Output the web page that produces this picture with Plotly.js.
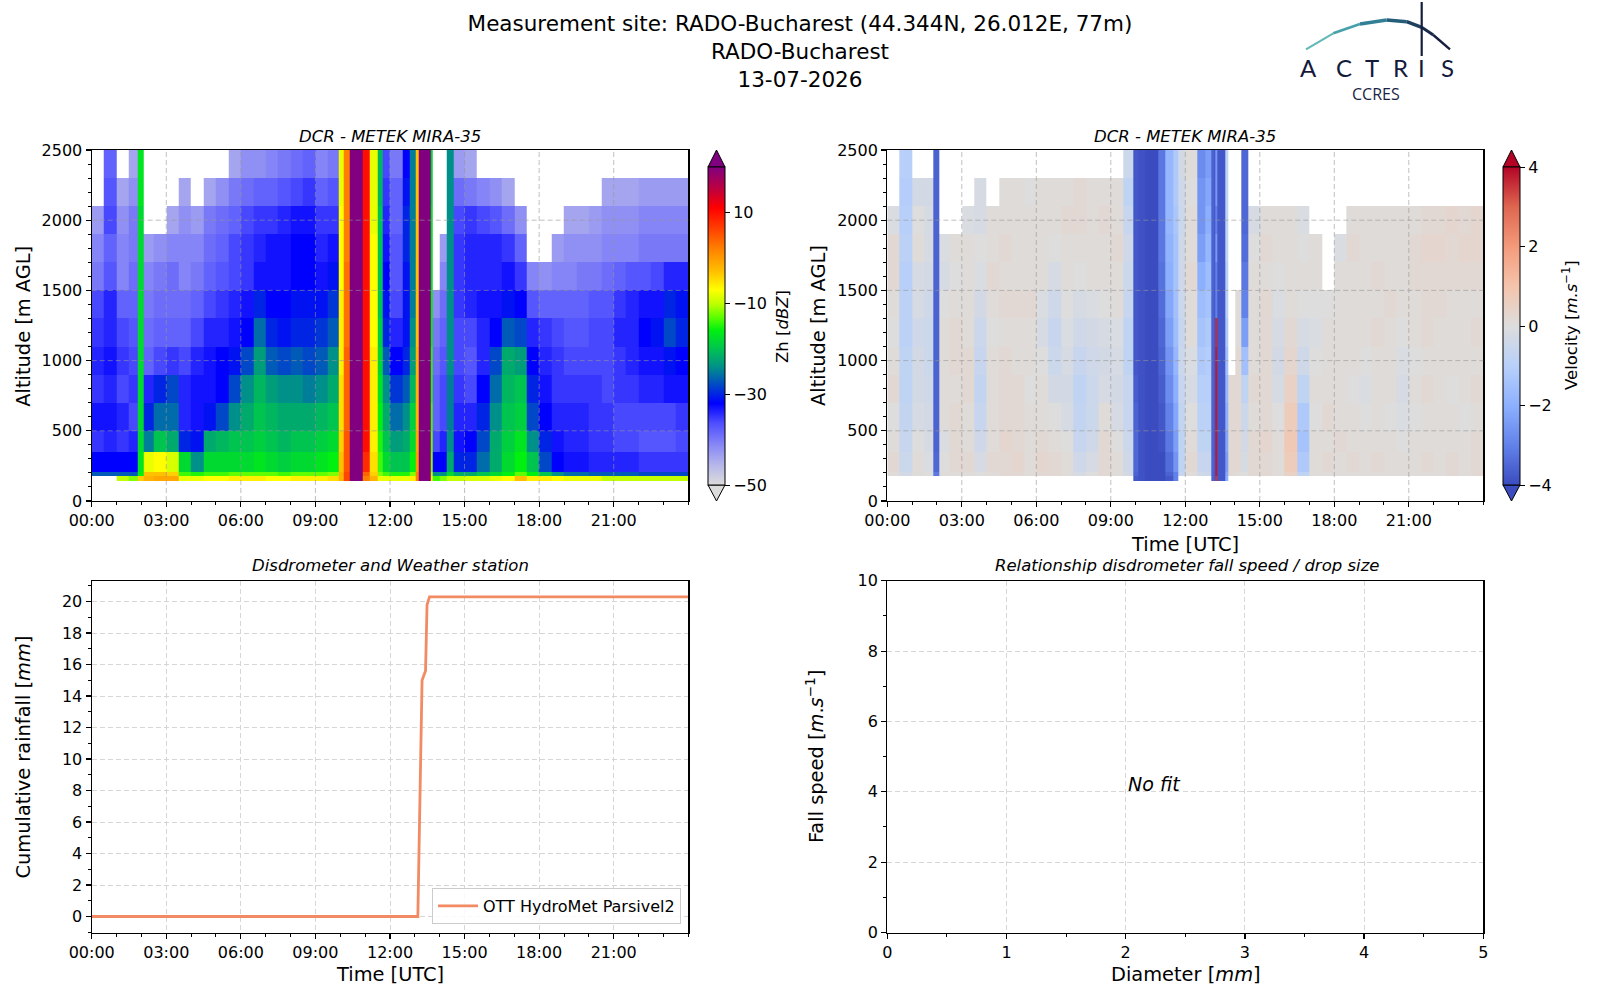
<!DOCTYPE html>
<html>
<head>
<meta charset="utf-8">
<script src="https://cdn.plot.ly/plotly-3.0.1.min.js"></script>
<style>
  body { margin: 0; background: #fff; }
  #chart { width: 1600px; height: 1000px; }
</style>
</head>
<body>
<div id="chart"></div>
<script>
const _ = null;

// time bins (hours UTC), bin edges
const timeEdges = [0, 0.5, 1.0, 1.5, 1.85, 2.08, 2.5, 3.0, 3.5, 4.0, 4.5, 5.0, 5.5, 6.0,
  6.5, 7.0, 7.5, 8.0, 8.5, 9.0, 9.5, 9.92, 10.12, 10.39, 10.92, 11.2, 11.52, 11.72,
  12.0, 12.5, 12.8, 13.05, 13.15, 13.2, 13.3, 13.63, 13.72, 14.0, 14.27, 14.55, 15.0,
  15.5, 16.0, 16.5, 17.0, 17.5, 18.0, 18.5, 19.0, 19.5, 20.0, 20.5, 21.0, 21.5, 22.0,
  22.5, 23.0, 23.5, 24.0];
// range gates (m AGL), bin edges
const altitudeEdges = [145, 175, 210, 350, 500, 700, 900, 1100, 1300, 1500, 1700, 1900, 2100, 2300, 2500];

const timeTicks = [0, 3, 6, 9, 12, 15, 18, 21];
const timeLabels = ['00:00', '03:00', '06:00', '09:00', '12:00', '15:00', '18:00', '21:00'];
const altitudeTicks = [0, 500, 1000, 1500, 2000, 2500];

// reflectivity Zh (dBZ), one profile per time bin, lowest gate first
const reflectivityProfiles = [
  [_, -27, -32, -35, -33, -35, -34, -35, -36, -40, -41, -43, _, _],
  [_, -27, -32, -34, -33, -34, -33, -34, -34, -37, -38, -36, -37, -38],
  [-10, -27, -32, -35, -34, -36, -35, -36, -38, -41, -41, -42, -44, _],
  [-12, -27, -32, -34, -36, -35, -36, -37, -38, -39, -40, -40, -42, -44],
  [-4, -16, -17, -18, -18, -18, -18, -18, -18, -18, -18, -18, -17, -17],
  [-2, -3, -8, -25, -30, -34, -38, -39, -40, -41, -43, _, _, _],
  [-1, -3, -7, -20, -26, -30, -36, -38, -39, -40, -42, _, _, _],
  [-1, -4, -9, -22, -26, -28, -35, -38, -39, -39, -41, -44, _, _],
  [-8, -14, -18, -30, -34, -34, -36, -38, -39, -41, -41, -42, -44, _],
  [-8, -15, -24, -31, -33, -33, -34, -36, -38, -40, -41, -43, _, _],
  [-7, -14, -18, -22, -31, -33, -33, -34, -36, -38, -39, -40, -44, _],
  [-7, -14, -18, -21, -28, -32, -32, -34, -35, -37, -38, -39, -42, _],
  [-6, -13, -18, -20, -24, -28, -31, -33, -34, -36, -36, -38, -40, -44],
  [-6, -13, -18, -20, -22, -24, -28, -32, -33, -35, -35, -36, -39, -42],
  [-6, -13, -17, -19, -20, -21, -23, -26, -30, -33, -34, -35, -38, -42],
  [-7, -13, -18, -20, -21, -23, -27, -30, -32, -33, -33, -35, -38, -41],
  [-7, -14, -19, -21, -22, -24, -28, -31, -32, -33, -33, -34, -37, -40],
  [-6, -13, -18, -20, -22, -24, -27, -30, -31, -32, -32, -33, -36, -39],
  [-6, -13, -18, -20, -22, -25, -28, -30, -31, -32, -32, -33, -35, -38],
  [-6, -13, -17, -19, -21, -24, -27, -29, -31, -33, -34, -35, -38, -41],
  [-5, -12, -16, -18, -20, -22, -24, -27, -29, -31, -33, -35, -37, -40],
  [-2, -2, -3, -4, -5, -5, -6, -6, -6, -7, -7, -7, -8, -8],
  [6, 6, 5, 5, 4, 4, 4, 3, 3, 3, 2, 2, 2, 2],
  [22, 22, 22, 22, 22, 22, 22, 22, 22, 22, 22, 22, 22, 22],
  [2, 4, 8, 10, 10, 10, 10, 10, 10, 10, 10, 10, 10, 10],
  [-2, -4, -5, -6, -6, -6, -6, -7, -7, -7, -7, -8, -8, -8],
  [-8, -12, -14, -15, -16, -17, -18, -19, -20, -20, -20, -20, -21, -21],
  [-8, -14, -18, -20, -22, -24, -27, -30, -31, -32, -33, -34, -35, -36],
  [-8, -15, -20, -23, -26, -29, -32, -34, -36, -37, -37, -38, -38, -40],
  [-8, -15, -20, -22, -24, -27, -30, -31, -31, -31, -30, -30, -31, -32],
  [-6, -12, -16, -18, -19, -21, -23, -24, -25, -25, -25, -25, -25, -25],
  [2, 2, 0, -1, -2, -2, -2, -3, -3, -3, -3, -3, -3, -3],
  [21, 21, 21, 21, 21, 21, 21, 21, 21, 21, 21, 21, 21, 21],
  [22, 22, 22, 22, 22, 22, 22, 22, 22, 22, 22, 22, 22, 22],
  [22, 22, 22, 22, 22, 22, 22, 22, 22, 22, 22, 22, 22, 22],
  [-6, -10, -12, -13, -14, -15, -15, -16, -16, -17, -17, -17, -18, -18],
  [-14, -24, -32, -36, -38, -38, -39, -40, -42, _, _, _, _, _],
  [-12, -24, -32, -34, -36, -36, -37, -38, -39, -41, -43, _, _, _],
  [-10, -18, -22, -24, -25, -25, -24, -24, -24, -24, -24, -24, -24, -24],
  [-10, -22, -30, -33, -34, -35, -36, -36, -35, -35, -35, -36, -39, -43],
  [-9, -22, -30, -32, -34, -36, -37, -36, -34, -34, -34, -35, -40, -44],
  [-9, -20, -26, -28, -30, -32, -34, -34, -33, -34, -34, -36, -41, _],
  [-8, -18, -22, -22, -24, -26, -28, -32, -33, -34, -34, -37, -42, _],
  [-7, -16, -18, -19, -20, -21, -22, -27, -31, -33, -35, -39, -44, _],
  [-3, -13, -16, -17, -19, -20, -23, -28, -32, -35, -38, -42, _, _],
  [-6, -16, -20, -24, -28, -30, -32, -34, -37, -41, _, _, _, _],
  [-6, -20, -28, -30, -32, -33, -34, -35, -38, -42, _, _, _, _],
  [-7, -24, -32, -33, -34, -35, -35, -36, -38, -41, -43, _, _, _],
  [-8, -26, -33, -34, -34, -35, -36, -37, -38, -41, -42, -44, _, _],
  [-8, -26, -33, -34, -34, -35, -36, -37, -38, -40, -42, -44, _, _],
  [-8, -27, -34, -35, -35, -35, -36, -36, -37, -40, -42, -43, _, _],
  [-10, -27, -34, -35, -35, -36, -36, -36, -37, -39, -41, -42, -44, _],
  [-10, -27, -34, -36, -36, -35, -35, -34, -35, -38, -41, -42, -44, _],
  [-10, -27, -34, -36, -36, -35, -34, -34, -34, -37, -41, -42, -44, _],
  [-10, -28, -35, -37, -36, -34, -33, -32, -33, -37, -40, -41, -43, _],
  [-10, -28, -35, -37, -36, -34, -33, -31, -33, -36, -40, -41, -43, _],
  [-10, -28, -35, -37, -36, -33, -31, -28, -30, -34, -40, -41, -43, _],
  [-10, -28, -35, -36, -35, -33, -32, -30, -31, -34, -40, -41, -43, _]
];

// Doppler velocity (m/s), one profile per time bin, lowest gate first
const velocityProfiles = [
  [_, 0.1, 0.2, 0.1, 0, 0.2, 0.1, 0, 0.1, 0.2, 0.2, -0.1, _, _],
  [_, -0.3, -0.5, -0.6, -0.7, -0.8, -0.8, -0.9, -0.9, -1.0, -0.9, -1.0, -1.1, -1.0],
  [_, 0.1, 0.1, 0, -0.2, -0.3, -0.3, -0.4, -0.2, -0.2, 0.1, 0, -0.3, _],
  [_, 0, -0.1, -0.2, -0.3, -0.4, -0.5, -0.5, -0.4, -0.3, -0.2, -0.2, -0.3, _],
  [_, -3.2, -3.5, -3.6, -3.6, -3.6, -3.6, -3.6, -3.6, -3.6, -3.6, -3.6, -3.6, -3.6],
  [_, 0.1, 0, -0.1, 0.1, 0.1, 0.1, 0.1, 0, -0.2, -0.1, _, _, _],
  [_, 0.1, 0.2, 0.2, 0.2, 0.1, 0.2, 0.2, 0.1, 0, 0.1, _, _, _],
  [_, 0.1, 0.2, 0.1, 0.1, 0.2, 0.2, 0.1, 0.1, 0.1, 0.1, -0.1, _, _],
  [_, 0, -0.2, -0.4, -0.6, -0.7, -0.6, -0.5, -0.3, -0.1, 0, -0.2, -0.2, _],
  [_, 0.1, 0.2, 0.1, 0.1, 0.1, 0.1, 0, 0.1, 0.2, 0.1, 0.1, _, _],
  [_, 0.2, 0.2, 0.3, 0.2, 0.2, 0.2, 0.1, 0.2, 0.1, 0.2, 0.1, 0.1, _],
  [_, 0.2, 0.3, 0.2, 0.2, 0.2, 0.1, 0.1, 0.2, 0.1, 0.1, 0.1, 0.1, _],
  [_, 0.1, 0.1, 0.1, 0.1, 0, 0.1, 0.1, 0.2, 0.1, 0.1, 0.1, 0, _],
  [_, 0.2, 0.3, 0.2, 0.1, 0.1, 0, -0.2, -0.1, 0.1, 0.1, 0.1, 0.1, _],
  [_, 0.2, 0.2, 0.1, 0, -0.3, -0.5, -0.6, -0.4, -0.2, 0, 0.1, 0.1, _],
  [_, 0.1, 0.1, 0, -0.2, -0.3, -0.2, -0.1, 0, 0.1, 0.1, 0.2, 0.1, _],
  [_, -0.2, -0.4, -0.6, -0.7, -0.8, -0.6, -0.4, -0.2, 0, 0.1, 0.2, 0.2, _],
  [_, 0, -0.2, -0.4, -0.5, -0.5, -0.4, -0.3, -0.1, 0.1, 0.1, 0.1, 0.1, _],
  [_, 0.2, 0.2, 0.2, 0.1, -0.2, -0.3, -0.2, 0, 0.1, 0.1, 0.2, 0.1, _],
  [_, 0.1, 0.1, 0, -0.2, -0.3, -0.2, -0.1, 0.1, 0.1, 0.2, 0.1, 0.1, _],
  [_, -0.3, -0.4, -0.5, -0.6, -0.6, -0.8, -0.8, -0.6, -0.5, -0.4, -0.6, -0.8, -0.5],
  [-3.8, -3.6, -3.5, -3.5, -3.6, -3.7, -3.8, -3.8, -3.8, -3.8, -3.8, -3.8, -3.8, -3.8],
  [-3.9, -3.9, -3.9, -3.9, -3.9, -3.9, -3.9, -3.9, -3.9, -3.9, -3.9, -3.9, -3.9, -3.9],
  [-4, -4, -4, -4, -4, -4, -4, -4, -4, -4, -4, -4, -4, -4],
  [-4, -4, -4, -3.9, -3.8, -3.7, -3.6, -3.5, -3.4, -3.3, -3.2, -3.2, -3.2, -3.2],
  [-3.8, -3.6, -3.4, -3.2, -3, -2.8, -2.6, -2.4, -2.2, -2.0, -1.9, -1.8, -1.8, -1.8],
  [-3, -3, -2.6, -2.4, -2.2, -2, -1.8, -1.6, -1.5, -1.4, -1.4, -1.3, -1.2, -1.2],
  [_, -0.6, -0.8, -0.8, -0.7, -0.6, -0.5, -0.6, -0.5, -0.4, -0.4, -0.5, -0.4, -0.3],
  [_, 0.1, 0.2, 0.1, 0, -0.2, -0.1, 0.1, 0.1, 0.2, 0.1, 0.1, 0, 0.1],
  [_, -0.4, -0.6, -0.8, -0.9, -1.0, -1.2, -1.4, -1.6, -2.0, -2.4, -2.6, -2.6, -2.8],
  [_, -0.5, -0.6, -0.8, -0.9, -1.0, -1.1, -1.2, -1.4, -1.6, -1.8, -2.0, -2.2, -2.4],
  [-3.6, -3.6, -3.6, -3.6, -3.6, -3.6, -3.6, -3.6, -3.6, -3.6, -3.6, -3.6, -3.6, -3.6],
  [-3.8, -3.8, -3.8, -3.8, -3.8, -3.8, -3.8, -3.8, -3.8, -3.8, -3.8, -3.8, -3.8, -3.8],
  [3.5, 3.8, 3.8, 3.8, 3.8, 3.8, 3.8, 3.6, -3, -3, -2.5, -3, -2.5, -2.5],
  [-3.8, -3.8, -3.8, -3.8, -3.8, -3.8, -3.8, -3.8, -3.8, -3.8, -3.8, -3.8, -3.8, -3.8],
  [-2, -2.2, -2.4, -2.2, -2, -1.8, -1.5, -1.2, -1, -1, -0.8, -0.8, -0.8, -0.8],
  [_, 0.2, 0.2, 0.2, 0.2, 0.2, _, _, _, _, _, _, _, _],
  [_, 0.1, 0.2, 0.2, 0.2, 0.2, 0.2, 0.1, 0.1, _, _, _, _, _],
  [_, 0, -0.2, -0.3, -0.5, -0.8, -1.5, -2.4, -3.0, -3.2, -3.4, -3.5, -3.5, -3.5],
  [_, 0.2, 0.2, 0.2, 0.1, 0.2, 0.1, 0.1, 0.1, 0.1, 0, -0.2, _, _],
  [_, 0.2, 0.2, 0.3, 0.2, 0.2, 0.2, 0.2, 0.2, 0.1, 0.2, 0.1, _, _],
  [_, 0.1, 0.1, 0.1, 0, -0.2, -0.3, -0.2, -0.1, 0, 0.1, 0.1, _, _],
  [_, 0.5, 0.7, 0.8, 0.7, 0.5, 0.3, 0.2, 0.1, 0.1, 0.1, 0.1, _, _],
  [_, -0.8, -1.2, -1.4, -1.2, -0.8, -0.4, -0.2, 0, 0.1, 0, -0.1, _, _],
  [_, 0.1, 0.1, 0.1, 0, 0.1, 0, -0.1, 0, 0.1, 0.1, _, _, _],
  [_, 0.1, 0.2, 0.1, 0.2, 0.1, 0.1, 0.1, 0, _, _, _, _, _],
  [_, 0.1, 0.1, 0.2, 0.1, 0.1, 0.1, 0.1, 0.1, 0.1, -0.1, _, _, _],
  [_, 0.1, 0.2, 0.1, 0.1, 0, 0.1, 0.1, 0.1, 0.1, 0.2, 0.1, _, _],
  [_, 0.1, 0.1, 0.1, 0, -0.1, 0, 0.1, 0.1, 0.1, 0.1, 0.1, _, _],
  [_, 0.1, 0.2, 0.1, 0.1, 0.1, 0.1, 0.2, 0.1, 0.2, 0.1, 0.1, _, _],
  [_, 0.1, 0.1, 0.1, 0, 0.1, 0.1, 0.1, 0.2, 0.1, 0.1, 0.1, _, _],
  [_, 0.1, 0.1, 0, -0.1, -0.2, -0.1, 0, 0.1, 0.1, 0.1, 0.1, _, _],
  [_, 0.1, 0.1, 0.1, 0, 0.1, 0, 0.1, 0.1, 0.2, 0.2, 0.1, _, _],
  [_, 0.1, 0.2, 0.1, 0.1, 0.2, 0.1, 0.2, 0.2, 0.2, 0.3, 0.2, _, _],
  [_, 0.1, 0.1, 0.1, 0.1, 0.1, 0.1, 0.1, 0.2, 0.2, 0.3, 0.2, _, _],
  [_, 0.2, 0.2, 0.1, 0.1, 0, 0.1, 0.1, 0.1, 0.2, 0.2, 0.3, _, _],
  [_, 0.1, 0.1, 0.1, 0, 0.1, 0.1, 0.1, 0.1, 0.2, 0.3, 0.2, _, _],
  [_, 0.2, 0.2, 0.2, 0.1, 0.2, 0.1, 0.2, 0.1, 0.2, 0.3, 0.3, _, _]
];

// disdrometer cumulative rainfall
const rainTime = [0, 13.12, 13.29, 13.43, 13.49, 13.59, 24];
const rainCumulative = [0, 0, 15.0, 15.6, 19.8, 20.3, 20.3];

const zhColorscale = [[0, '#dcdcdc'], [0.06, '#b8b8ea'], [0.123, '#8a8af6'], [0.196, '#4d4dff'],
  [0.257, '#0000ff'], [0.314, '#0048c8'], [0.371, '#00908a'], [0.429, '#00c450'],
  [0.486, '#00f010'], [0.529, '#60ff00'], [0.571, '#c0ff00'], [0.614, '#ffff00'],
  [0.671, '#ffc000'], [0.743, '#ff8000'], [0.814, '#ff3800'], [0.871, '#ff0000'],
  [0.929, '#c0003c'], [1, '#800080']];
const coolwarm = [[0, '#3b4cc0'], [0.125, '#6282ea'], [0.25, '#8db0fe'], [0.375, '#b8d0f9'],
  [0.5, '#dddddd'], [0.625, '#f5c4ac'], [0.75, '#f49a7b'], [0.875, '#de6650'], [1, '#b40426']];

const FONT = 'DejaVu Sans, sans-serif';
const px = v => v / 1600;
const py = v => 1 - v / 1000;

// profiles are per time bin; heatmap wants rows per altitude
function toGrid(profiles) {
  return altitudeEdges.slice(1).map((edge, r) => profiles.map(p => p[r]));
}

function colorbar(x, tickvals) {
  return {
    x: px(x), xanchor: 'left', xpad: 0, ypad: 0,
    y: py(326), yanchor: 'middle', len: 0.318, lenmode: 'fraction', thickness: 17,
    outlinewidth: 1, outlinecolor: '#000',
    tickvals: tickvals, ticktext: tickvals.map(v => String(v).replace('-', '\u2212')),
    ticks: 'outside', ticklen: 5, tickcolor: '#000',
    tickfont: {family: FONT, size: 16, color: '#000'}
  };
}

const traces = [
  {
    type: 'heatmap', x: timeEdges, y: altitudeEdges, z: toGrid(reflectivityProfiles),
    xaxis: 'x', yaxis: 'y', zmin: -50, zmax: 20, colorscale: zhColorscale,
    colorbar: colorbar(708, [-50, -30, -10, 10]), hoverongaps: false
  },
  {
    type: 'heatmap', x: timeEdges, y: altitudeEdges, z: toGrid(velocityProfiles),
    xaxis: 'x2', yaxis: 'y2', zmin: -4, zmax: 4, colorscale: coolwarm,
    colorbar: colorbar(1503, [-4, -2, 0, 2, 4]), hoverongaps: false
  },
  {
    type: 'scatter', mode: 'lines', x: rainTime, y: rainCumulative,
    xaxis: 'x3', yaxis: 'y3', name: 'OTT HydroMet Parsivel2',
    line: {color: '#f28a63', width: 2.8}
  },
  {type: 'scatter', x: [], y: [], xaxis: 'x4', yaxis: 'y4', showlegend: false}
];

const axisBase = {
  showline: true, linecolor: '#000', linewidth: 1.2, mirror: true,
  ticks: 'outside', ticklen: 5, tickwidth: 1.2, tickcolor: '#000',
  tickfont: {family: FONT, size: 16, color: '#000'},
  zeroline: false, showgrid: true, gridcolor: '#d6d6d6', griddash: '5px,3px', gridwidth: 1,
  fixedrange: true
};
const minor = d => ({ticks: 'outside', ticklen: 3, tickwidth: 1, tickcolor: '#000', tickmode: 'linear', tick0: 0, dtick: d, showgrid: false});

const timeAxis = (domain, anchor, grid) => Object.assign({}, axisBase, {
  domain: domain, anchor: anchor, range: [0, 24], tickmode: 'array',
  tickvals: timeTicks, ticktext: timeLabels, minor: minor(1), showgrid: grid
});
const altitudeAxis = (domain, anchor) => Object.assign({}, axisBase, {
  domain: domain, anchor: anchor, range: [0, 2500], tickmode: 'array',
  tickvals: altitudeTicks, minor: minor(100), showgrid: false
});

const leftX = [px(91.7), px(688.3)];
const rightX = [px(887.3), px(1483.3)];
const topY = [py(501), py(150)];
const bottomY = [py(932.5), py(580.8)];

// dashed grid drawn over the radar images, as in the original
const gridShapes = [];
['', '2'].forEach(k => {
  timeTicks.slice(1).forEach(t => gridShapes.push({
    type: 'line', xref: 'x' + k, yref: 'y' + k + ' domain', x0: t, x1: t, y0: 0, y1: 1,
    line: {color: 'rgba(150,150,150,0.6)', width: 1, dash: '5px,3px'}, layer: 'above'
  }));
  altitudeTicks.slice(1, -1).forEach(a => gridShapes.push({
    type: 'line', xref: 'x' + k + ' domain', yref: 'y' + k, x0: 0, x1: 1, y0: a, y1: a,
    line: {color: 'rgba(150,150,150,0.6)', width: 1, dash: '5px,3px'}, layer: 'above'
  }));
});

// colorbar extension triangles
function triangle(x0, x1, yBase, yTip, color) {
  const xm = (x0 + x1) / 2;
  return {
    type: 'path', xref: 'paper', yref: 'paper',
    path: `M ${px(x0)} ${py(yBase)} L ${px(x1)} ${py(yBase)} L ${px(xm)} ${py(yTip)} Z`,
    fillcolor: color, line: {color: '#000', width: 1}
  };
}
const triShapes = [
  triangle(708, 725, 167, 150, '#800080'), triangle(708, 725, 485, 501, '#dcdcdc'),
  triangle(1503, 1520, 167, 150, '#b40426'), triangle(1503, 1520, 485, 501, '#3b4cc0')
];

// ACTRIS logo arc
const arcPts = [[1306, 49.3], [1333.3, 33.3], [1360, 24], [1386.7, 20], [1406.7, 21.7],
  [1421.7, 27.3], [1433.3, 35], [1450, 49.3]];
const arcColors = ['#62b8b9', '#47a0aa', '#327f95', '#255e7a', '#1d405f', '#182b4b', '#151d3e'];
const arcWidths = [2, 2.8, 3.4, 3.6, 3.4, 3, 2.4];
const logoShapes = arcColors.map((c, i) => ({
  type: 'line', xref: 'paper', yref: 'paper',
  x0: px(arcPts[i][0]), y0: py(arcPts[i][1]), x1: px(arcPts[i + 1][0]), y1: py(arcPts[i + 1][1]),
  line: {color: c, width: arcWidths[i]}
}));
logoShapes.push({type: 'line', xref: 'paper', yref: 'paper', x0: px(1421.7), x1: px(1421.7),
  y0: py(2), y1: py(56), line: {color: '#151d3e', width: 2.2}});

function note(text, x, y, size, opts) {
  return Object.assign({
    text: text, xref: 'paper', yref: 'paper', x: px(x), y: py(y),
    xanchor: 'center', yanchor: 'middle', showarrow: false,
    font: {family: FONT, size: size, color: '#000'}
  }, opts || {});
}

const logoLetters = [['A', 1308.7], ['C', 1344], ['T', 1371.7], ['R', 1400], ['I', 1421.7], ['S', 1447]];

const annotations = [
  note('<i>DCR - METEK MIRA-35</i>', 390, 136, 16.5),
  note('<i>DCR - METEK MIRA-35</i>', 1185.3, 136, 16.5),
  note('<i>Disdrometer and Weather station</i>', 390, 565, 16.5),
  note('<i>Relationship disdrometer fall speed / drop size</i>', 1187, 565, 16.5),
  note('Altitude [m AGL]', 22.7, 326, 19.4, {textangle: -90}),
  note('Altitude [m AGL]', 818, 326, 19.4, {textangle: -90}),
  note('Zh [<i>dBZ</i>]', 783, 327, 16.5, {textangle: -90}),
  note('Velocity [<i>m.s</i><sup>\u22121</sup>]', 1570, 325, 16.5, {textangle: -90}),
  note('Time [UTC]', 1185.3, 544, 19.4),
  note('Time [UTC]', 390, 974.5, 19.4),
  note('Diameter [<i>mm</i>]', 1186, 974.5, 19.4),
  note('Cumulative rainfall [<i>mm</i>]', 22.5, 757, 19.4, {textangle: -90}),
  note('Fall speed [<i>m</i>.<i>s</i><sup>\u22121</sup>]', 815, 757, 19.4, {textangle: -90}),
  {text: '<i>No fit</i>', xref: 'x4', yref: 'y4', x: 2, y: 4, xanchor: 'left', yanchor: 'bottom',
   yshift: -5, showarrow: false, font: {family: FONT, size: 19, color: '#000'}},
  note('CCRES', 1376, 94, 16, {font: {family: 'Open Sans, sans-serif', size: 16, color: '#1a1f45'}})
].concat(logoLetters.map(([l, x]) =>
  note(l, x, 67.5, 24, {font: {family: 'Lato, sans-serif', size: 24, color: '#141a3c'}})));

const layout = {
  width: 1600, height: 1000,
  margin: {l: 0, r: 0, t: 0, b: 0},
  paper_bgcolor: '#fff', plot_bgcolor: '#fff',
  font: {family: FONT, color: '#000'},
  title: {
    text: 'Measurement site: RADO-Bucharest (44.344N, 26.012E, 77m)<br>RADO-Bucharest<br>13-07-2026',
    x: 0.5, xanchor: 'center', xref: 'paper', y: py(31), yanchor: 'middle', yref: 'container',
    font: {family: FONT, size: 21.5, color: '#000'}
  },
  xaxis: timeAxis(leftX, 'y', false),
  yaxis: altitudeAxis(topY, 'x'),
  xaxis2: timeAxis(rightX, 'y2', false),
  yaxis2: altitudeAxis(topY, 'x2'),
  xaxis3: timeAxis(leftX, 'y3', true),
  yaxis3: Object.assign({}, axisBase, {domain: bottomY, anchor: 'x3', range: [-1.015, 21.315],
    tickmode: 'linear', tick0: 0, dtick: 2, minor: minor(1)}),
  xaxis4: Object.assign({}, axisBase, {domain: rightX, anchor: 'y4', range: [0, 5],
    tickmode: 'linear', tick0: 0, dtick: 1, minor: minor(0.5)}),
  yaxis4: Object.assign({}, axisBase, {domain: bottomY, anchor: 'x4', range: [0, 10],
    tickmode: 'linear', tick0: 0, dtick: 2, minor: minor(1)}),
  showlegend: true,
  legend: {
    x: px(681), xanchor: 'right', y: py(924), yanchor: 'bottom',
    bgcolor: 'rgba(255,255,255,0.85)', bordercolor: '#cccccc', borderwidth: 1,
    itemwidth: 40,
    font: {family: FONT, size: 16, color: '#000'}
  },
  shapes: gridShapes.concat(triShapes, logoShapes),
  annotations: annotations
};

Plotly.newPlot('chart', traces, layout, {displayModeBar: false, staticPlot: true});
</script>
</body>
</html>
